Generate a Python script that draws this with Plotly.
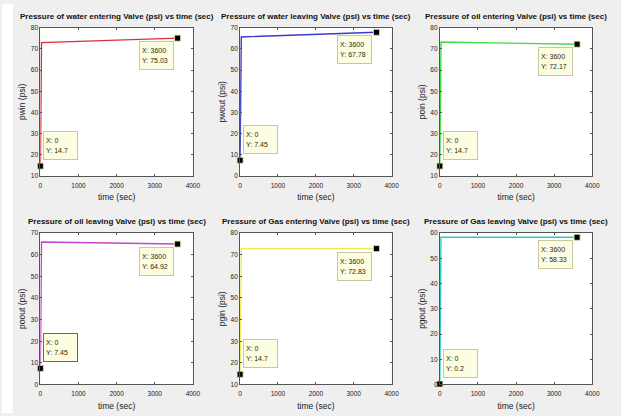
import plotly.graph_objects as go

W, H = 621, 416

# Simulation output: time (sec) and pressures (psi)
time_pwin = [0, 30, 3600]
pwin = [14.7, 72.9, 75.03]

time_pwout = [0, 30, 3600]
pwout = [7.45, 65.6, 67.78]

time_poin = [0, 30, 3600]
poin = [14.7, 73.2, 72.17]

time_poout = [0, 30, 3600]
poout = [7.45, 65.9, 64.92]

time_pgin = [0, 30, 3600]
pgin = [14.7, 72.83, 72.83]

time_pgout = [0, 30, 3600]
pgout = [0.2, 58.4, 58.33]

titles = [
    "Pressure of water entering Valve (psi) vs time (sec)",
    "Pressure of water leaving Valve (psi) vs time (sec)",
    "Pressure of oil entering Valve (psi) vs time (sec)",
    "Pressure of oil leaving Valve (psi) vs time (sec)",
    "Pressure of Gas entering Valve (psi) vs time (sec)",
    "Pressure of Gas leaving Valve (psi) vs time (sec)",
]
ylabels = ["pwin (psi)", "pwout (psi)", "poin (psi)",
           "poout (psi)", "pgin (psi)", "pgout (psi)"]
yranges = [[10, 80], [0, 70], [10, 80], [0, 70], [10, 80], [0, 60]]
xticks = [0, 1000, 2000, 3000, 4000]

series = [
    (time_pwin, pwin), (time_pwout, pwout), (time_poin, poin),
    (time_poout, poout), (time_pgin, pgin), (time_pgout, pgout),
]
colors = ["#d8333a", "#3a3ac4", "#44dd44", "#c844c8", "#ecec50", "#2ccaca"]

# pixel boxes of each axes: (left, right, top, bottom)
cols = [(39, 194), (242, 396), (445, 600)]
rows = [(24, 175), (233, 387)]

FONT = "Liberation Sans, Arial, sans-serif"

fig = go.Figure()
layout = dict(
    width=W, height=H,
    margin=dict(l=0, r=0, t=0, b=0),
    paper_bgcolor="#efefef",
    plot_bgcolor="white",
    showlegend=False,
    font=dict(family=FONT, size=7, color="#222222"),
    annotations=[],
    shapes=[dict(type="rect", xref="paper", yref="paper",
                 x0=0, x1=11 / W, y0=0, y1=1,
                 fillcolor="white", line=dict(width=0), layer="below")],
)

for i, ((t, p), color) in enumerate(zip(series, colors)):
    r, c = divmod(i, 3)
    left, right = cols[c]
    top, bottom = rows[r]
    xa = "x" if i == 0 else f"x{i+1}"
    ya = "y" if i == 0 else f"y{i+1}"
    xk = "xaxis" if i == 0 else f"xaxis{i+1}"
    yk = "yaxis" if i == 0 else f"yaxis{i+1}"

    fig.add_trace(go.Scatter(x=t, y=p, mode="lines", xaxis=xa, yaxis=ya,
                             line=dict(color=color, width=1.4),
                             hoverinfo="skip"))
    # data-tip markers at the first and last samples
    ends_x = [t[0], t[-1]]
    ends_y = [p[0], p[-1]]
    fig.add_trace(go.Scatter(x=ends_x, y=ends_y, mode="markers",
                             xaxis=xa, yaxis=ya, cliponaxis=False,
                             marker=dict(symbol="square", size=6, color="black",
                                         line=dict(color="#e8e8a0", width=0.8)),
                             hoverinfo="skip"))

    axis_common = dict(
        showgrid=False, zeroline=False, showline=True, mirror="ticks",
        linecolor="#555555", linewidth=1, ticks="inside", ticklen=2,
        tickcolor="#555555", tickfont=dict(family=FONT, size=6.5, color="#222222"),
    )
    layout[xk] = dict(axis_common, domain=[left / W, right / W], anchor=ya,
                      range=[0, 4000], tickvals=xticks, ticklabelstandoff=3,
                      title=dict(text="time (sec)", standoff=6,
                                 font=dict(family=FONT, size=8.5, color="#222222")))
    layout[yk] = dict(axis_common, domain=[1 - bottom / H, 1 - top / H], anchor=xa,
                      range=yranges[i], dtick=10,
                      title=dict(text=ylabels[i], standoff=3,
                                 font=dict(family=FONT, size=8.5, color="#222222")))

    # subplot title
    layout["annotations"].append(dict(
        text=f"<b>{titles[i]}</b>", xref="paper", yref="paper",
        x=(left + right) / 2 / W, y=1 - (top - 5) / H,
        xanchor="center", yanchor="bottom", showarrow=False,
        font=dict(family=FONT, size=8, color="#111111")))

    tip_style = dict(xref=xa, yref=ya, showarrow=False, align="left",
                     valign="middle", width=29, height=23,
                     bgcolor="#fdfde2", bordercolor="#c8c8a0", borderwidth=1,
                     borderpad=2, font=dict(family=FONT, size=7, color="#2a2a10"))
    layout["annotations"].append(dict(
        tip_style, x=t[-1], y=p[-1],
        text=f"X: {t[-1]}<br>Y: {p[-1]}",
        xanchor="right", yanchor="top", xshift=-4, yshift=-3))
    start_tip = dict(
        tip_style, x=t[0], y=p[0],
        text=f"X: {t[0]}<br>Y: {p[0]}",
        xanchor="left", yanchor="bottom", xshift=3, yshift=6)
    if i == 3:
        # this tip is the selected one, drawn with a darker outline
        start_tip["bordercolor"] = "#6e6e3a"
    layout["annotations"].append(start_tip)

fig.update_layout(**layout)
fig.write_html("out.html")
